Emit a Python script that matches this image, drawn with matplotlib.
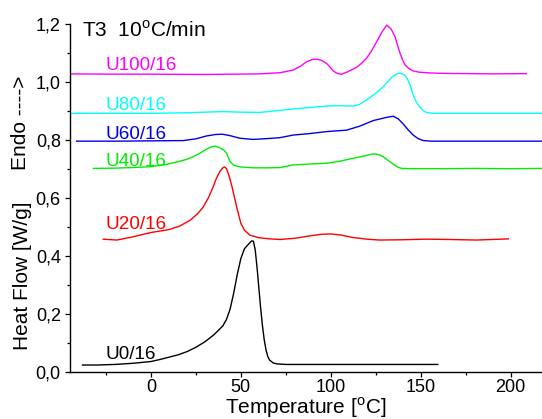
import matplotlib
matplotlib.use("Agg")
import matplotlib.pyplot as plt
from matplotlib.ticker import MultipleLocator, FuncFormatter

plt.rcParams['font.family'] = ['Liberation Sans', 'DejaVu Sans']
plt.rcParams['mathtext.fontset'] = 'custom'
plt.rcParams['mathtext.rm'] = 'Liberation Sans'

# DSC curves, temperature in C, heat flow in W/g
t_u0 = [-38, -30, -20, -10, 0, 5, 10, 15, 20, 25, 30, 35, 40, 42, 44, 46, 48, 50,
        52, 54, 56, 57, 58, 59, 60, 61, 62, 63, 64, 65, 66, 68, 70, 75, 100, 130, 159.5]
hf_u0 = [0.023, 0.023, 0.025, 0.029, 0.035, 0.042, 0.050, 0.058, 0.069, 0.084, 0.103,
         0.127, 0.158, 0.180, 0.215, 0.270, 0.335, 0.390, 0.424, 0.438, 0.451, 0.450,
         0.420, 0.360, 0.290, 0.220, 0.160, 0.110, 0.075, 0.052, 0.040, 0.030, 0.027,
         0.025, 0.025, 0.025, 0.025]

t_u20 = [-26.5, -19, -10, 0, 10, 16, 22, 26, 29, 32, 34.5, 36.5, 38.5, 40, 41, 42,
         43.5, 45, 46.5, 48, 50, 52, 55, 60, 66, 72, 80, 88, 95, 100, 106, 112, 120,
         127, 140, 153, 165, 181, 198.7]
hf_u20 = [0.457, 0.454, 0.465, 0.480, 0.490, 0.502, 0.523, 0.545, 0.567, 0.600, 0.636,
          0.668, 0.692, 0.703, 0.706, 0.700, 0.675, 0.640, 0.600, 0.560, 0.512, 0.488,
          0.471, 0.462, 0.458, 0.456, 0.460, 0.468, 0.474, 0.475, 0.471, 0.463, 0.457,
          0.454, 0.455, 0.457, 0.456, 0.454, 0.458]

t_u40 = [-32, -20, -10, 0, 8.7, 15, 19.8, 24, 27.2, 30, 33, 35.6, 38.4, 40.5, 42, 44,
         46, 47.6, 50, 57, 65, 72, 79, 88, 97.7, 105, 112.5, 118, 122, 124.5, 127,
         129.2, 132, 134.7, 137, 139.4, 145, 160, 180, 200, 217]
hf_u40 = [0.701, 0.702, 0.704, 0.707, 0.715, 0.724, 0.732, 0.743, 0.753, 0.764, 0.774,
          0.778, 0.772, 0.764, 0.755, 0.725, 0.712, 0.709, 0.706, 0.703, 0.703, 0.704,
          0.713, 0.716, 0.719, 0.726, 0.736, 0.743, 0.749, 0.751, 0.748, 0.741, 0.728,
          0.716, 0.706, 0.701, 0.700, 0.700, 0.701, 0.700, 0.701]

t_u60 = [-41.3, -20, 0, 18, 25, 31, 36, 39.8, 44, 49.5, 56.9, 65, 71.7, 79.1, 88, 97.7,
         108.8, 116.2, 123.6, 131, 134.7, 137.5, 140.3, 143, 145.8, 148.5, 151.4, 156,
         170, 190, 217]
hf_u60 = [0.795, 0.795, 0.796, 0.797, 0.803, 0.813, 0.818, 0.819, 0.814, 0.805, 0.801,
          0.804, 0.807, 0.816, 0.821, 0.828, 0.833, 0.847, 0.866, 0.877, 0.881, 0.872,
          0.854, 0.834, 0.816, 0.804, 0.797, 0.795, 0.795, 0.795, 0.795]

t_u80 = [-45, -20, 0, 20, 30, 40, 50, 60.6, 79.1, 90, 99.5, 106, 112.5, 116, 119.9,
         125, 129.2, 132, 134.7, 137, 138.8, 140.5, 142.1, 144, 145.8, 147.5, 149.5,
         151.5, 153.2, 157, 170, 190, 217]
hf_u80 = [0.891, 0.891, 0.891, 0.893, 0.895, 0.897, 0.895, 0.894, 0.906, 0.912, 0.917,
          0.917, 0.916, 0.922, 0.937, 0.960, 0.983, 1.002, 1.020, 1.028, 1.029, 1.025,
          1.015, 0.990, 0.954, 0.930, 0.912, 0.900, 0.894, 0.891, 0.891, 0.891, 0.891]

t_u100 = [-45, -20, 0, 30, 60, 71.7, 79.1, 83, 86.6, 90, 92.5, 95, 97.7, 99.5, 101.4,
          103.5, 105.7, 109, 114.4, 117, 119.9, 122.5, 125.5, 128.5, 131.1, 133.5,
          135.7, 137, 138.5, 140, 141.3, 143.5, 145.9, 149, 153.3, 160, 175, 190, 208.7]
hf_u100 = [1.027, 1.026, 1.026, 1.025, 1.027, 1.031, 1.040, 1.053, 1.069, 1.077, 1.078,
           1.073, 1.063, 1.051, 1.037, 1.029, 1.0255, 1.033, 1.050, 1.063, 1.081, 1.105,
           1.138, 1.172, 1.195, 1.182, 1.155, 1.128, 1.098, 1.074, 1.058, 1.045, 1.037,
           1.033, 1.031, 1.029, 1.028, 1.027, 1.028]

samples = ['U0/16', 'U20/16', 'U40/16', 'U60/16', 'U80/16', 'U100/16']
colors = ['black', '#ff0000', '#00ee00', '#0000ee', '#00ffff', '#ff00ff']
curves = [(t_u0, hf_u0), (t_u20, hf_u20), (t_u40, hf_u40),
          (t_u60, hf_u60), (t_u80, hf_u80), (t_u100, hf_u100)]
# baseline of each sample name, in W/g
label_y = [0.045, 0.491, 0.710, 0.801, 0.902, 1.039]

fig = plt.figure(figsize=(5.42, 4.19), dpi=100)
ax = fig.add_axes([0.129, 0.1129, 0.871, 0.8305])

for (t, hf), name, c, ly in zip(curves, samples, colors, label_y):
    ax.plot(t, hf, color=c, lw=1.0)
    ax.text(-25.0, ly, name, color=c, fontsize=13.6, va='baseline', ha='left')

ax.text(-38.5, 1.156, r'T3  10$^{\mathrm{o}}$C/min', fontsize=15, va='baseline', ha='left')

ax.set_xlim(-45, 217.4)
ax.set_ylim(0, 1.2)
ax.xaxis.set_major_locator(MultipleLocator(50))
ax.xaxis.set_minor_locator(MultipleLocator(25))
ax.yaxis.set_major_locator(MultipleLocator(0.2))
ax.yaxis.set_minor_locator(MultipleLocator(0.1))
ax.yaxis.set_major_formatter(FuncFormatter(lambda v, p: ('%.1f' % v).replace('.', ',')))

for s in ['top', 'right']:
    ax.spines[s].set_visible(False)
for s in ['left', 'bottom']:
    ax.spines[s].set_linewidth(1.0)
ax.tick_params(which='major', direction='out', length=3.6, width=0.9, labelsize=13)
ax.tick_params(axis='x', which='major', pad=1.5)
ax.tick_params(axis='y', which='major', pad=3)
ax.tick_params(which='minor', direction='out', length=2.0, width=0.9)

ax.set_xlabel(r'Temperature [$^{\mathrm{o}}$C]', fontsize=15, labelpad=0)
fig.text(0.0417, 0.3415, 'Heat Flow [W/g]', rotation=90, fontsize=15, ha='center', va='center')
fig.text(0.037, 0.707, 'Endo ---->', rotation=90, fontsize=15, ha='center', va='center')

plt.savefig('out.png', dpi=100)
